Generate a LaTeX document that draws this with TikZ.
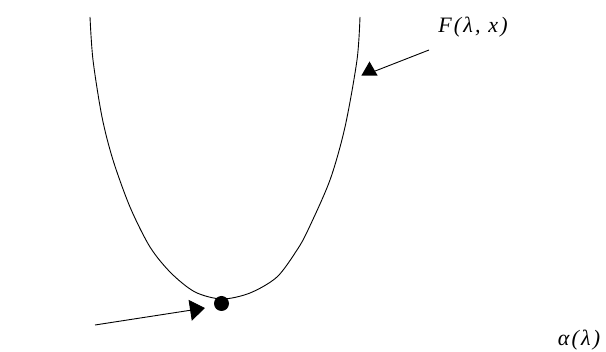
\documentclass[tikz,border=0pt]{standalone}
\usepackage{fontspec}
\setmainfont{Liberation Serif}
\newfontfamily\lblfont[LetterSpace=10]{Liberation Serif}
\usetikzlibrary{arrows.meta,shapes.geometric}

\tikzset{
	lbl/.style={font=\lblfont\itshape\fontsize{22}{26}\selectfont, inner sep=0pt},
	curveline/.style={line width=0.9pt},
	pointer/.style={line width=0.9pt}
}

\begin{document}
\begin{tikzpicture}[x=1pt, y=-1pt]
		\useasboundingbox (0,0) rectangle (606,352);
		\draw [curveline] plot [smooth, tension=0.5] coordinates {(90,17) (93,60) (102,117) (113,160) (130,207) (150,247) (171,273) (195,292) (222,299) (250,293) (277,277) (297,250) (308,230) (330,180) (345,127) (357,60) (360,17)};
		\node (minpt) at (221.5,303.5) [circle, fill, inner sep=0pt, minimum size=15pt] {};
		\node (ftip) at (369.5,71) [regular polygon, regular polygon sides=3, fill, inner sep=0pt, minimum size=19pt] {};
		\node (flabel) at (473,27) [lbl] {F(λ, x)};
		\node (alabel) at (579,340) [lbl] {α(λ)};
		\coordinate (fstart) at (429,50);
		\coordinate (astart) at (95,325);
		\draw [pointer] (fstart) -- (ftip.east);
		\draw [pointer, -{Triangle[length=15pt, width=21pt]}] (astart) -- (205,308);
	\end{tikzpicture}
\end{document}
